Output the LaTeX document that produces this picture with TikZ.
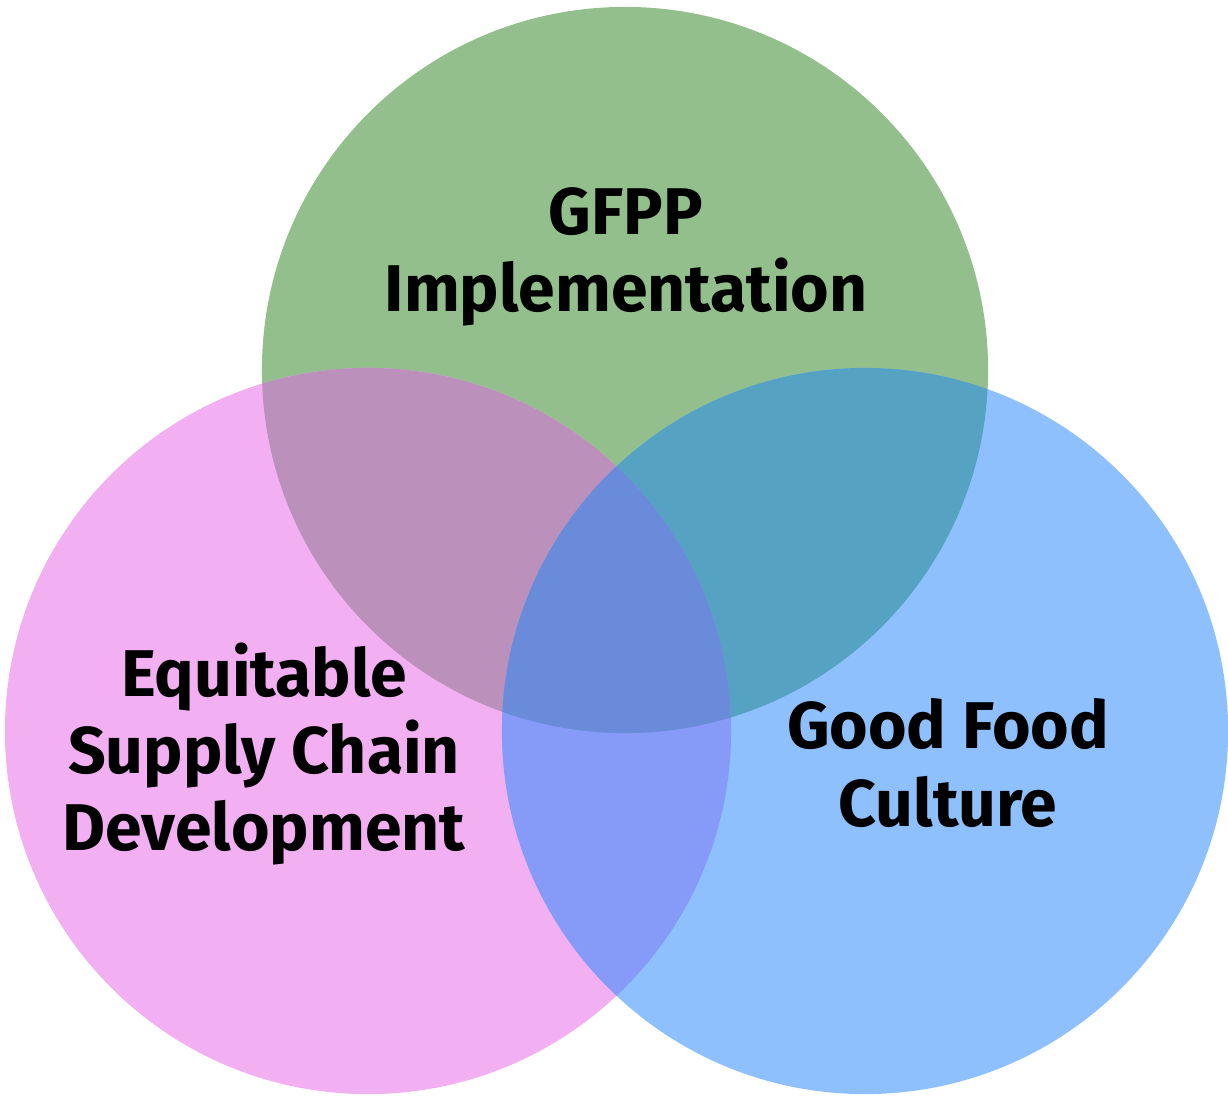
\documentclass[tikz,border=0pt]{standalone}
\usepackage{fontspec}
\setmainfont{Fira Sans}
\definecolor{gfppgreen}{HTML}{93BF8C}
\definecolor{supplypink}{HTML}{F2AFF2}
\definecolor{cultureblue}{HTML}{8DC0FD}
\definecolor{pinkgreen}{HTML}{BB91BB}
\definecolor{greenblue}{HTML}{56A2C3}
\definecolor{pinkblue}{HTML}{869BF7}
\definecolor{allthree}{HTML}{698BDA}
\tikzset{
  label text/.style={align=center,inner sep=0pt,font=\fontsize{47}{55}\selectfont\bfseries}
}
\begin{document}
\begin{tikzpicture}[x=0.025cm,y=-0.025cm]
			\useasboundingbox (0,0) rectangle (1228,1099);
			\coordinate (g) at (625,370);
			\coordinate (p) at (368,731);
			\coordinate (b) at (865,731);
			\fill[gfppgreen] (g) circle[radius=9.075cm];
			\fill[supplypink] (p) circle[radius=9.075cm];
			\fill[cultureblue] (b) circle[radius=9.075cm];
			\begin{scope}
				\clip (g) circle[radius=9.075cm];
				\fill[pinkgreen] (p) circle[radius=9.075cm];
				\fill[greenblue] (b) circle[radius=9.075cm];
			\end{scope}
			\begin{scope}
				\clip (p) circle[radius=9.075cm];
				\clip (b) circle[radius=9.075cm];
				\fill[pinkblue] (b) circle[radius=9.075cm];
				\fill[allthree] (g) circle[radius=9.075cm];
			\end{scope}
			\node[label text] (gfpp) at (626,257) {GFPP\\Implementation};
			\node[label text] (supply) at (264,754) {Equitable\\Supply Chain\\Development};
			\node[label text] (culture) at (948,763) {Good Food\\Culture};
		\end{tikzpicture}
\end{document}
